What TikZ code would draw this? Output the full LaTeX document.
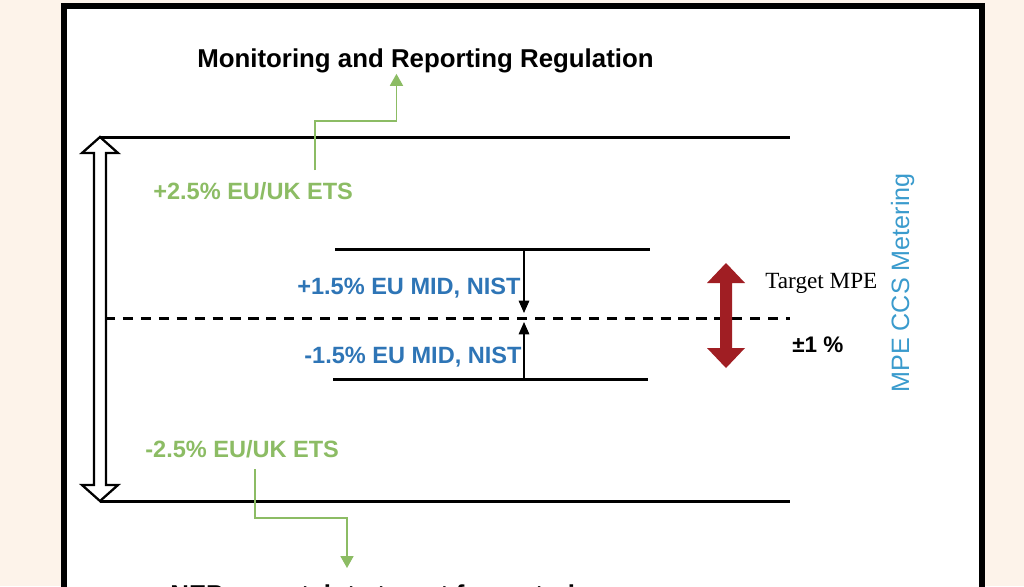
\documentclass[tikz,border=0pt]{standalone}
\usepackage{fontspec}
\setmainfont{Liberation Sans}
\newfontfamily\serifface{Liberation Serif}
\usepackage{tikz}
\usetikzlibrary{arrows.meta,calc}

\definecolor{cream}{RGB}{253,243,234}
\definecolor{etsgreen}{RGB}{140,188,100}
\definecolor{midblue}{RGB}{46,117,182}
\definecolor{mpeblue}{RGB}{58,155,205}
\definecolor{mpered}{RGB}{160,30,35}

\tikzset{
  heading/.style={anchor=base west, font=\fontsize{14.7}{17}\selectfont\bfseries},
  etslabel/.style={anchor=base west, text=etsgreen, font=\fontsize{13.4}{16}\selectfont\bfseries},
  midlabel/.style={anchor=base west, text=midblue, font=\fontsize{13.4}{16}\selectfont\bfseries},
  level/.style={line width=1.7pt},
  greenlink/.style={draw=etsgreen, line width=0.9pt, -{Triangle[width=7.4pt,length=6.8pt]}},
  midarrow/.style={line width=0.75pt, -{Triangle[width=6pt,length=7pt]}},
  hollow/.style={draw=black, fill=white, line width=1.3pt, line join=miter}
}

\begin{document}
\begin{tikzpicture}[x=0.02cm, y=-0.02cm, every node/.style={inner sep=0pt}]
 \path[use as bounding box, clip] (0,0) rectangle (1024,586);
 \fill[cream] (0,0) rectangle (1024,586);
 % frame
 \fill[white] (64,6) rectangle (982,640);
 \draw[line width=3.4pt] (64,640) -- (64,6) -- (982,6) -- (982,640);

 % texts
 \node[heading] (title) at (197,67) {Monitoring and Reporting Regulation};
 \node[etslabel] (etsup) at (153,199) {+2.5\% EU/UK ETS};
 \node[etslabel] (etslow) at (145,457) {-2.5\% EU/UK ETS};
 \node[midlabel] (midup) at (297,294) {+1.5\% EU MID, NIST};
 \node[midlabel] (midlow) at (304,363) {-1.5\% EU MID, NIST};
 \node[anchor=base west, font=\serifface\fontsize{13.2}{16}\selectfont] (target) at (765,288) {Target MPE};
 \node[anchor=base west, font=\fontsize{12.8}{15}\selectfont\bfseries] (pmone) at (792,352) {±1 \%};
 \node[rotate=90, anchor=base, text=mpeblue, font=\fontsize{14.3}{17}\selectfont] (mpe) at (909,283) {MPE CCS Metering};
 \node[heading] (nep) at (170,603) {NEP uncertainty target for metering};

 % limit lines
 \coordinate (hightop) at (100,137);
 \coordinate (lowbot) at (100,501);
 \coordinate (midtop) at (524,249);
 \coordinate (midbot) at (524,379);
 \coordinate (centre) at (524,318);
 \draw[level] (hightop) -- (790,137);
 \draw[level] (lowbot) -- (790,501);
 \draw[level, dash pattern=on 5.8pt off 4.4pt] (105,318) -- (790,318);
 \draw[level] (335,249) -- (650,249);
 \draw[level] (333,379) -- (648,379);

 % ETS range arrow
 \draw[hollow] (hightop) -- ++(18,16) -- ++(-12,0) -- ($(lowbot)+(6,-16)$) -- ++(12,0)
   -- (lowbot) -- ++(-18,-16) -- ++(12,0) -- ($(hightop)+(-6,16)$) -- ++(-12,0) -- cycle;

 % MID arrows
 \draw[midarrow] (midtop) -- ($(centre)+(0,-5)$);
 \draw[midarrow] (midbot) -- ($(centre)+(0,4)$);

 % target MPE arrow
 \coordinate (redtop) at (726,263);
 \coordinate (redbot) at (726,368);
 \fill[mpered] (redtop) -- ++(19,20) -- ++(-13,0) -- ($(redbot)+(6,-20)$) -- ++(13,0)
   -- (redbot) -- ++(-19,-20) -- ++(13,0) -- ($(redtop)+(-6,20)$) -- ++(-13,0) -- cycle;

 % links to regulations
 \coordinate (upfoot) at (315,170);
 \coordinate (lowfoot) at (255,469);
 \draw[greenlink] (upfoot) -- (315,121) -| ($(title.south)+(-29,1)$);
 \draw[greenlink] (lowfoot) -- (255,518) -| (347,568);
\end{tikzpicture}
\end{document}
